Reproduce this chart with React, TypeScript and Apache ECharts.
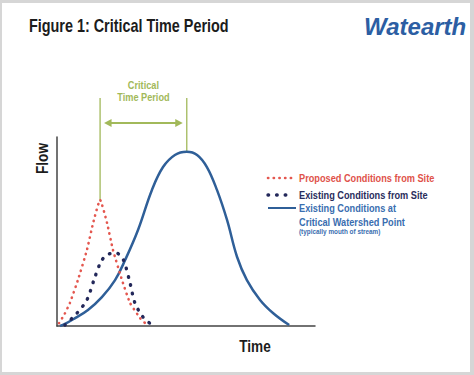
import { useEffect, useRef } from "react";
import * as echarts from "echarts";

const FONT = "'Liberation Sans', Arial, sans-serif";
const SX = 0.8; // horizontal squeeze to imitate a condensed face

const titleText = "Figure 1: Critical Time Period";
const logoText = "Watearth";
const xName = "Time";
const yName = "Flow";
const windowLines = ["Critical", "Time Period"];
const seriesNames = [
  "Proposed Conditions from Site",
  "Existing Conditions from Site",
  "Existing Conditions at Critical Watershed Point",
];
const watershedLines = ["Existing Conditions at", "Critical Watershed Point"];
const watershedNote = "(typically mouth of stream)";

// [time, flow] in axis units (0 - 100)
const proposedSite: number[][] = [
  [0.8, 1.5], [3.0, 6.5], [5.0, 12.2], [8.1, 24.3], [11.6, 40.2], [14.0, 54.5],
  [16.7, 66.7], [19.4, 54.5], [21.7, 40.2], [25.2, 24.3], [28.3, 12.2], [32.2, 4.2], [34.1, 1.6],
];
const existingSite: number[][] = [
  [3.1, 0.5], [7.8, 6.9], [11.6, 13.8], [14.7, 25.9], [17.4, 34.9], [20.2, 38.1],
  [22.9, 38.6], [25.6, 35.4], [28.3, 22.8], [30.2, 12.2], [33.3, 4.8], [36.8, 0.5],
];
const existingWatershed: number[][] = [
  [1.2, 0], [3.1, 1.1], [7.0, 4.2], [12.0, 8.5], [17.4, 15.3], [22.5, 24.3], [26.4, 34.9],
  [31.4, 50.8], [36.8, 72.0], [41.1, 84.1], [45.7, 90.5], [50.3, 92.2], [54.3, 90.5],
  [58.1, 84.1], [62.0, 72.0], [65.9, 56.1], [69.8, 36.5], [73.6, 24.3], [78.7, 13.8],
  [83.7, 6.9], [90.0, 0.5],
];

const RED = "#e4574f";
const NAVY = "#23285a";
const BLUE = "#2f5f98";
const GREEN = "#a2b95a";
const INK = "#1c1c1c";
const RED_TEXT = "#e0524a";
const NAVY_TEXT = "#2a2d5c";
const BLUE_TEXT = "#3a6eb0";
const LOGO = "#2c5ea3";

const styles = [
  { color: RED, width: 2.6, type: [0.3, 5.4], cap: "round" },
  { color: NAVY, width: 3.4, type: [0.6, 8], cap: "round" },
  { color: BLUE, width: 2.5, type: "solid", cap: "butt" },
];

function txt(text: string, x: number, y: number, size: number, color: string, extra: any = {}) {
  const { scale = SX, align = "left", weight = "bold", rotation = 0, italic = false } = extra;
  return {
    type: "text",
    x,
    y,
    rotation,
    scaleX: scale,
    silent: true,
    style: {
      text,
      fill: color,
      fontFamily: FONT,
      fontSize: size,
      fontWeight: weight,
      fontStyle: italic ? "italic" : "normal",
      align,
      verticalAlign: "middle",
    },
  };
}

export default function App() {
  const ref = useRef<HTMLDivElement>(null);

  useEffect(() => {
    if (!ref.current) return;
    const chart = echarts.init(ref.current, null, { renderer: "svg" });
    const axisCommon = {
      type: "value",
      min: 0,
      max: 100,
      axisLine: { show: true, lineStyle: { color: "#444", width: 1.5 } },
      axisTick: { show: false },
      axisLabel: { show: false },
      splitLine: { show: false },
    };
    const data = [proposedSite, existingSite, existingWatershed];
    chart.setOption({
      animation: false,
      backgroundColor: "#d6d6d6",
      grid: { left: 57, top: 137, right: 159, bottom: 49, containLabel: false },
      xAxis: { ...axisCommon },
      yAxis: { ...axisCommon },
      series: data.map((d, i) => ({
        name: seriesNames[i],
        type: "line",
        data: d,
        symbol: "none",
        smooth: i === 0 ? 0.15 : i === 1 ? 0.3 : 0.4,
        z: 4 - i,
        lineStyle: {
          color: styles[i].color,
          width: styles[i].width,
          type: styles[i].type,
          cap: styles[i].cap,
        },
      })),
    } as any);

    const peak = (d: number[][]) => d.reduce((a, b) => (b[1] > a[1] ? b : a));
    const p1 = chart.convertToPixel({ gridIndex: 0 }, peak(proposedSite)) as number[];
    const p2 = chart.convertToPixel({ gridIndex: 0 }, peak(existingWatershed)) as number[];
    const topY = 98;
    const arrowY = 123;
    const ax1 = p1[0] + 4;
    const ax2 = p2[0] - 4;
    const cx = (p1[0] + p2[0]) / 2;

    // legend (drawn from series names and styles)
    const legX = 268;
    const legW = [28, 20, 28];
    const legTextX = 299;
    const legRows = [178, 195, 208];
    const legendIcons = styles.map((s, i) => ({
      type: "line",
      silent: true,
      shape: { x1: legX, y1: legRows[i], x2: legX + legW[i], y2: legRows[i] },
      style: {
        stroke: s.color,
        lineWidth: i === 2 ? 2 : s.width,
        lineDash: Array.isArray(s.type) ? s.type : null,
        lineCap: s.cap,
      },
    }));

    chart.setOption({
      graphic: {
        elements: [
          {
            type: "rect",
            z: -10,
            silent: true,
            shape: { x: 2, y: 3, width: 468, height: 369 },
            style: { fill: "#ffffff" },
          },
          txt(titleText, 29, 25, 18, INK),
          txt(logoText, 364, 26, 24, LOGO, { scale: 1, italic: true }),
          txt(yName, 41.5, 158.5, 17, INK, { align: "center", rotation: Math.PI / 2 }),
          txt(xName, 255, 346, 17, INK, { align: "center" }),
          {
            type: "line",
            silent: true,
            shape: { x1: p1[0], y1: topY, x2: p1[0], y2: p1[1] },
            style: { stroke: GREEN, lineWidth: 1.3 },
          },
          {
            type: "line",
            silent: true,
            shape: { x1: p2[0], y1: topY, x2: p2[0], y2: p2[1] },
            style: { stroke: GREEN, lineWidth: 1.3 },
          },
          {
            type: "line",
            silent: true,
            shape: { x1: ax1 + 5, y1: arrowY, x2: ax2 - 5, y2: arrowY },
            style: { stroke: GREEN, lineWidth: 2 },
          },
          {
            type: "polygon",
            silent: true,
            shape: { points: [[ax1, arrowY], [ax1 + 7.5, arrowY - 4], [ax1 + 7.5, arrowY + 4]] },
            style: { fill: GREEN },
          },
          {
            type: "polygon",
            silent: true,
            shape: { points: [[ax2, arrowY], [ax2 - 7.5, arrowY - 4], [ax2 - 7.5, arrowY + 4]] },
            style: { fill: GREEN },
          },
          txt(windowLines[0], cx, 85, 11.5, GREEN, { align: "center" }),
          txt(windowLines[1], cx, 97.5, 11.5, GREEN, { align: "center" }),
          ...legendIcons,
          txt(seriesNames[0], legTextX, legRows[0], 11.5, RED_TEXT),
          txt(seriesNames[1], legTextX, legRows[1], 11.5, NAVY_TEXT),
          txt(watershedLines[0], legTextX, legRows[2], 11.5, BLUE_TEXT),
          txt(watershedLines[1], legTextX, legRows[2] + 14, 11.5, BLUE_TEXT),
          txt(watershedNote, legTextX, legRows[2] + 23, 7.5, BLUE_TEXT, { scale: 0.85 }),
        ],
      },
    } as any);

    return () => chart.dispose();
  }, []);

  return (
    <div
      ref={ref}
      style={{ position: "absolute", left: 0, top: 0, width: 474, height: 375 }}
    />
  );
}
